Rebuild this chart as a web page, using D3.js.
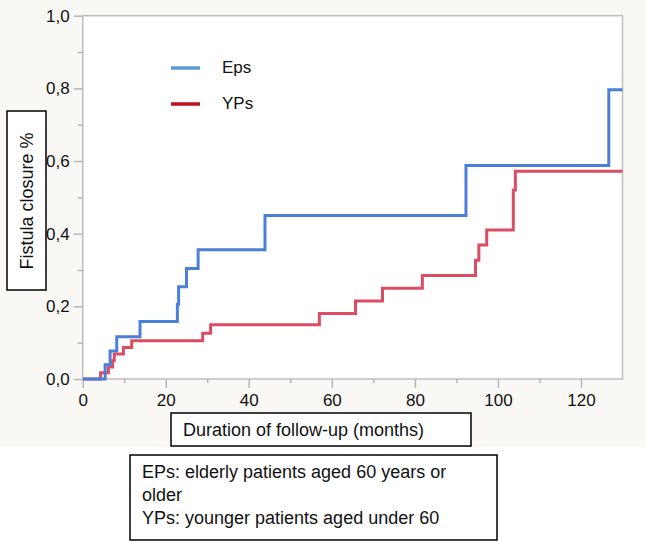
<!DOCTYPE html>
<html>
<head>
<meta charset="utf-8">
<script src="https://cdn.jsdelivr.net/npm/d3@7"></script>
<style>
  html, body { margin: 0; padding: 0; background: #ffffff; }
  svg { display: block; }
  text { font-family: "Liberation Sans", Arial, Helvetica, sans-serif; fill: #111; }
</style>
</head>
<body>
<svg id="chart" width="646" height="541"></svg>
<script>
// ---- data ----
const epsTimes  = [0, 5.4, 6.6, 8.2, 13.8, 22.8, 23.1, 25.0, 27.8, 43.9, 92.3, 126.7];
const epsValues = [0, 0.039, 0.077, 0.116, 0.158, 0.206, 0.254, 0.304, 0.356, 0.45, 0.588, 0.796];
const ypsTimes  = [0, 4.3, 6.2, 7.2, 7.6, 9.8, 11.8, 28.9, 30.8, 57.0, 65.7, 72.2, 81.8, 94.6, 95.4, 97.3, 103.7, 104.2];
const ypsValues = [0, 0.017, 0.033, 0.05, 0.069, 0.087, 0.105, 0.126, 0.149, 0.18, 0.215, 0.25, 0.285, 0.327, 0.369, 0.41, 0.52, 0.572];
const followUpEnd = 130;
const xTicks = [0, 20, 40, 60, 80, 100, 120];
const xMinorTicks = [10, 30, 50, 70, 90, 110];
const yTicks = [0, 0.2, 0.4, 0.6, 0.8, 1.0];
const yMinorTicks = [0.1, 0.3, 0.5, 0.7, 0.9];
const seriesNames = ["Eps", "YPs"];
const yLabel = "Fistula closure %";
const xLabel = "Duration of follow-up (months)";
const noteLines = ["EPs: elderly patients aged 60 years or", "older", "YPs: younger patients aged under 60"];

(function () {
const svg = d3.select("#chart");
const W = 646, H = 541;

// backgrounds
svg.append("rect").attr("x", 0).attr("y", 0).attr("width", W).attr("height", 447).attr("fill", "#f9f8f4");

const pL = 82.7, pR = 622.5, pT = 15.7, pB = 379;
const x = d3.scaleLinear().domain([0, 130]).range([pL, pR]);
const y = d3.scaleLinear().domain([0, 1]).range([pB, pT]);

svg.append("rect").attr("x", pL).attr("y", pT).attr("width", pR - pL).attr("height", pB - pT)
  .attr("fill", "#ffffff").attr("stroke", "#bdbdbd").attr("stroke-width", 1.5);

const fmt = d => d3.format(".1f")(d).replace(".", ",");

// axes
const xAxis = svg.append("g").attr("transform", `translate(0,${pB})`)
  .call(d3.axisBottom(x).tickValues(xTicks).tickSize(9).tickPadding(6).tickFormat(d3.format("d")));
const xAxisMinor = svg.append("g").attr("transform", `translate(0,${pB})`)
  .call(d3.axisBottom(x).tickValues(xMinorTicks).tickSize(4).tickFormat(""));
const yAxis = svg.append("g").attr("transform", `translate(${pL},0)`)
  .call(d3.axisLeft(y).tickValues(yTicks).tickSize(9).tickPadding(4).tickFormat(fmt));
const yAxisMinor = svg.append("g").attr("transform", `translate(${pL},0)`)
  .call(d3.axisLeft(y).tickValues(yMinorTicks).tickSize(5).tickFormat(""));

[xAxis, xAxisMinor, yAxis, yAxisMinor].forEach(g => {
  g.select(".domain").remove();
  g.selectAll(".tick line").attr("stroke", "#b5b5b5").attr("stroke-width", 1.5);
  g.selectAll(".tick text").attr("font-size", 17).attr("fill", "#111")
    .style("font-family", "'Liberation Sans', Arial, sans-serif");
});

// step lines
const line = d3.line().curve(d3.curveStepAfter).x(d => x(d[0])).y(d => y(d[1]));
function series(times, values) {
  const pts = times.map((t, i) => [t, values[i]]);
  pts.push([followUpEnd, values[values.length - 1]]);
  return pts;
}
svg.append("clipPath").attr("id", "plotclip").append("rect")
  .attr("x", pL).attr("y", pT - 2).attr("width", pR - pL + 1).attr("height", pB - pT + 4);

svg.append("path").datum(series(ypsTimes, ypsValues)).attr("d", line)
  .attr("fill", "none").attr("stroke", "#dc4d63").attr("stroke-width", 3).attr("clip-path", "url(#plotclip)");
svg.append("path").datum(series(epsTimes, epsValues)).attr("d", line)
  .attr("fill", "none").attr("stroke", "#4a80d8").attr("stroke-width", 3).attr("clip-path", "url(#plotclip)");

// legend
const legendColors = ["#5a9bd8", "#c0101c"];
const legendY = [68, 104];
seriesNames.forEach((name, i) => {
  svg.append("line").attr("x1", 171).attr("x2", 200).attr("y1", legendY[i]).attr("y2", legendY[i])
    .attr("stroke", legendColors[i]).attr("stroke-width", 3.5);
  svg.append("text").attr("x", 222).attr("y", legendY[i] + 5).attr("font-size", 17).text(name);
});

// y label box
svg.append("rect").attr("x", 7).attr("y", 111).attr("width", 39).attr("height", 179)
  .attr("fill", "#ffffff").attr("stroke", "#000").attr("stroke-width", 1.5);
svg.append("text").attr("transform", "translate(33,201) rotate(-90)").attr("text-anchor", "middle")
  .attr("font-size", 18).text(yLabel);

// x label box
svg.append("rect").attr("x", 171).attr("y", 413).attr("width", 300).attr("height", 33)
  .attr("fill", "#ffffff").attr("stroke", "#000").attr("stroke-width", 1.5);
svg.append("text").attr("x", 183).attr("y", 436).attr("font-size", 18).text(xLabel);

// note box
svg.append("rect").attr("x", 130).attr("y", 455).attr("width", 367).attr("height", 85)
  .attr("fill", "#ffffff").attr("stroke", "#000").attr("stroke-width", 1.5);
noteLines.forEach((t, i) => {
  svg.append("text").attr("x", 142).attr("y", 478 + i * 23).attr("font-size", 18).text(t);
});
})();
</script>
</body>
</html>
